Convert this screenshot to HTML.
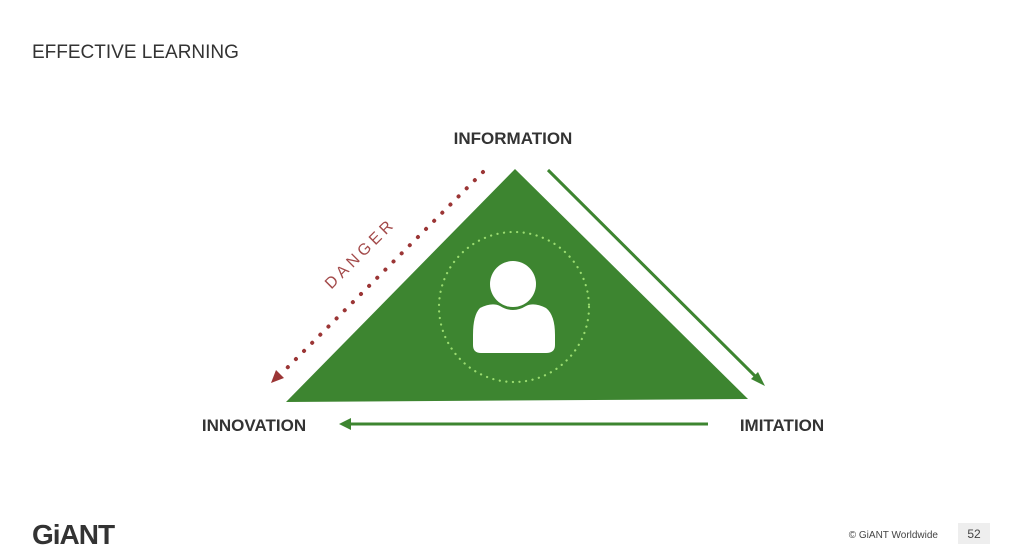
<!DOCTYPE html>
<html><head><meta charset="utf-8"><style>
body{margin:0;width:1024px;height:554px;background:#fff;overflow:hidden;font-family:"Liberation Sans",sans-serif}
</style></head><body>
<svg width="1024" height="554" viewBox="0 0 1024 554" xmlns="http://www.w3.org/2000/svg" style="position:absolute;left:0;top:0">
<text x="32" y="58" font-family="Liberation Sans" font-size="19" fill="#333">EFFECTIVE LEARNING</text>
<text x="513" y="144" font-family="Liberation Sans" font-size="17" font-weight="bold" fill="#333" text-anchor="middle">INFORMATION</text>
<text x="254" y="431" font-family="Liberation Sans" font-size="17" font-weight="bold" fill="#333" text-anchor="middle">INNOVATION</text>
<text x="782" y="431" font-family="Liberation Sans" font-size="17" font-weight="bold" fill="#333" text-anchor="middle">IMITATION</text>
<polygon points="515,169 286,402 748,399" fill="#3d8530"/>
<circle cx="514" cy="307" r="75" fill="none" stroke="#9bdc70" stroke-width="2.2" stroke-dasharray="0.1 6.5" stroke-linecap="round"/>
<circle cx="513" cy="284" r="23" fill="#fff"/>
<path d="M480,308 Q492,302 500,306 Q513,314 526,306 Q534,302 546,308 Q555,315 555,335 L555,345 Q555,353 546,353 L481,353 Q473,353 473,345 L473,335 Q473,315 480,308Z" fill="#fff"/>
<line x1="548" y1="170" x2="760" y2="381" stroke="#3d8530" stroke-width="3"/>
<polygon points="765,386 751,379 758,372" fill="#3d8530"/>
<line x1="708" y1="424" x2="348" y2="424" stroke="#3d8530" stroke-width="3"/>
<polygon points="339,424 351,418 351,430" fill="#3d8530"/>
<line x1="483" y1="172" x2="282" y2="373" stroke="#9b3535" stroke-width="4" stroke-dasharray="0.1 11.4" stroke-linecap="round"/>
<polygon points="271,383 276,370 284,378" fill="#9b3535"/>
<text x="364" y="257" font-family="Liberation Sans" font-size="16" fill="#a34a4a" letter-spacing="4" text-anchor="middle" transform="rotate(-45 364 257)">DANGER</text>
<text x="32" y="544" font-family="Liberation Sans" font-size="28" font-weight="bold" fill="#333" letter-spacing="-1">GiANT</text>
<text x="938" y="538" font-family="Liberation Sans" font-size="10" fill="#444" text-anchor="end">© GiANT Worldwide</text>
<rect x="958" y="523" width="32" height="21" fill="#eee"/>
<text x="974" y="538" font-family="Liberation Sans" font-size="12" fill="#444" text-anchor="middle">52</text>
</svg>
</body></html>
